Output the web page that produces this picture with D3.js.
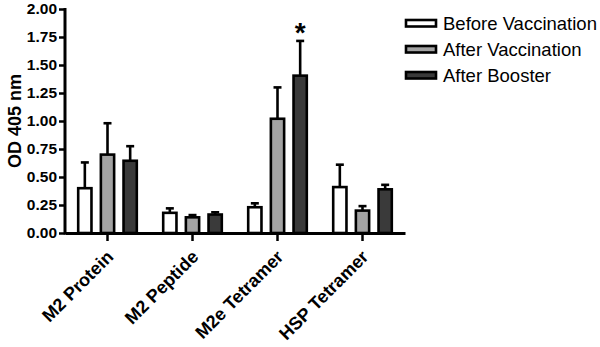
<!DOCTYPE html>
<html>
<head>
<meta charset="utf-8">
<script src="https://cdn.jsdelivr.net/npm/d3@7"></script>
<style>
  body { margin: 0; background: #fff; }
  text { font-family: "Liberation Sans", Arial, sans-serif; }
</style>
</head>
<body>
<div id="chart-area"></div>
<script>
// data
var categories = ["M2 Protein", "M2 Peptide", "M2e Tetramer", "HSP Tetramer"];
var seriesNames = ["Before Vaccination", "After Vaccination", "After Booster"];
var beforeVals = [0.40, 0.18, 0.23, 0.41];
var beforeErr  = [0.23, 0.04, 0.035, 0.20];
var afterVals  = [0.70, 0.14, 1.02, 0.20];
var afterErr   = [0.28, 0.02, 0.28, 0.04];
var boosterVals = [0.645, 0.165, 1.405, 0.39];
var boosterErr  = [0.13, 0.02, 0.31, 0.04];
var yTicks = [0, 0.25, 0.5, 0.75, 1.0, 1.25, 1.5, 1.75, 2.0];
var colors = ["#ffffff", "#a3a3a3", "#3a3a3a"];

var width = 600, height = 347;
var svg = d3.select('#chart-area')
    .append('svg')
        .attr('width', width)
        .attr('height', height);

var x = d3.scaleBand().domain(categories).range([65, 405]);
var x1 = d3.scaleBand().domain(seriesNames).range([-34, 34])
    .paddingInner(0.3).paddingOuter(0.15);
var y = d3.scaleLinear().domain([0, 2]).range([233, 9]);

// build rows for the bars
var vals = [beforeVals, afterVals, boosterVals];
var errs = [beforeErr, afterErr, boosterErr];
var rows = [];
categories.forEach(function(c, i) {
    seriesNames.forEach(function(s, j) {
        rows.push({cat: c, series: s, idx: j, v: vals[j][i], e: errs[j][i]});
    });
});

var sw = 2.6;
var bx = function(d) { return x(d.cat) + x.bandwidth() / 2 + x1(d.series); };

// error bars (drawn first, bars cover the lower part)
var eb = svg.append("g").attr("stroke", "#000").attr("stroke-width", sw);
eb.selectAll(".ev").data(rows).enter().append("line")
    .attr("x1", function(d) { return bx(d) + x1.bandwidth() / 2; })
    .attr("x2", function(d) { return bx(d) + x1.bandwidth() / 2; })
    .attr("y1", function(d) { return y(d.v); })
    .attr("y2", function(d) { return y(d.v + d.e); });
eb.selectAll(".ec").data(rows).enter().append("line")
    .attr("x1", function(d) { return bx(d) + x1.bandwidth() / 2 - 4; })
    .attr("x2", function(d) { return bx(d) + x1.bandwidth() / 2 + 4; })
    .attr("y1", function(d) { return y(d.v + d.e); })
    .attr("y2", function(d) { return y(d.v + d.e); });

svg.append("g").selectAll("rect").data(rows).enter().append("rect")
    .attr("x", function(d) { return bx(d) + sw / 2; })
    .attr("y", function(d) { return y(d.v); })
    .attr("width", x1.bandwidth() - sw)
    .attr("height", function(d) { return y(0) - y(d.v); })
    .attr("fill", function(d) { return colors[d.idx]; })
    .attr("stroke", "#000")
    .attr("stroke-width", sw);

// axes
var leftAxis = d3.axisLeft(y).tickValues(yTicks).tickFormat(d3.format(".2f"))
    .tickSize(6).tickSizeOuter(0).tickPadding(2);
var gy = svg.append("g").attr("class", "left axis")
    .attr("transform", "translate(65,0)")
    .call(leftAxis);
gy.select(".domain").attr("stroke-width", 3).attr("d", "M0," + (y(2) - 1) + "V" + (y(0) + 1.5));
gy.selectAll(".tick line").attr("stroke-width", 2.5);
gy.selectAll("text").attr("font-size", "15.5px").attr("font-weight", "bold").attr("fill", "#000")
    .attr("font-family", "Liberation Sans, Arial, sans-serif");

var bottomAxis = d3.axisBottom(x).tickSize(8).tickSizeOuter(0);
var gx = svg.append("g").attr("class", "bottom axis")
    .attr("transform", "translate(0,233)")
    .call(bottomAxis);
gx.select(".domain").attr("stroke-width", 3);
gx.selectAll(".tick line").attr("stroke-width", 2.5);
gx.selectAll("text")
    .attr("font-size", "18px").attr("font-weight", "bold").attr("fill", "#000")
    .attr("font-family", "Liberation Sans, Arial, sans-serif")
    .attr("text-anchor", "end")
    .attr("x", 0).attr("y", 0).attr("dy", 0)
    .attr("transform", "translate(7,25) rotate(-45)");

svg.append("text")
    .attr("x", -121).attr("y", 21)
    .attr("transform", "rotate(-90)")
    .attr("text-anchor", "middle")
    .attr("font-size", "18px").attr("font-weight", "bold")
    .text("OD 405 nm");

// significance mark
svg.append("text")
    .attr("x", x("M2e Tetramer") + x.bandwidth() / 2 + x1("After Booster") + x1.bandwidth() / 2)
    .attr("y", y(1.714) + 0.5)
    .attr("text-anchor", "middle")
    .attr("font-size", "28px").attr("font-weight", "bold")
    .text("*");

// legend
var lg = svg.append("g").attr("transform", "translate(406,10)");
seriesNames.forEach(function(s, i) {
    lg.append("rect")
        .attr("x", 0).attr("y", 10 + i * 26)
        .attr("width", 30).attr("height", 6.5)
        .attr("fill", colors[i]).attr("stroke", "#000").attr("stroke-width", sw);
    lg.append("text")
        .attr("x", 37).attr("y", 13.5 + i * 26).attr("dy", "0.35em")
        .attr("font-size", "18.5px")
        .text(s);
});
</script>
</body>
</html>
